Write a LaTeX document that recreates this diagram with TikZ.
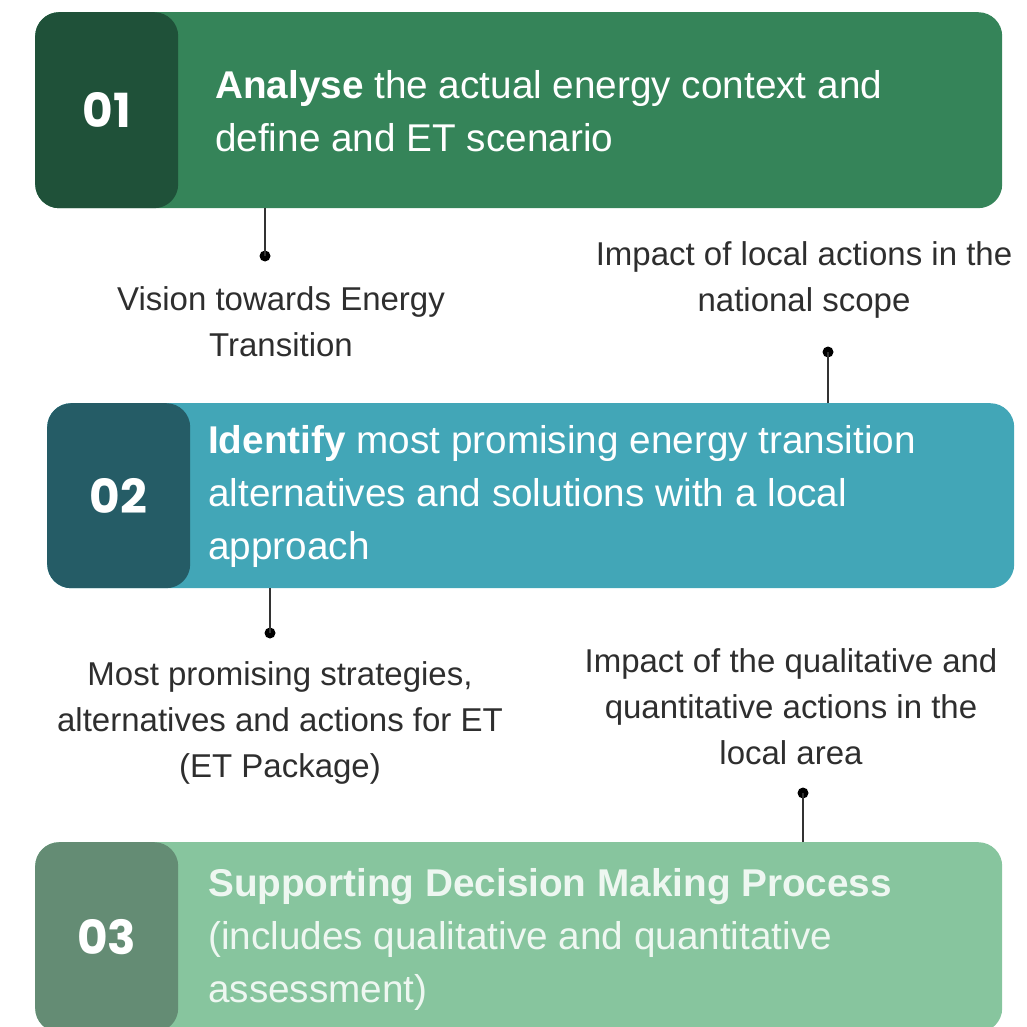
\documentclass[tikz,border=0pt]{standalone}
\usepackage{fontspec}
\setmainfont{Liberation Sans}
\newfontfamily\numfont{Poppins}
\definecolor{gA}{HTML}{358459}
\definecolor{gAd}{HTML}{1F5139}
\definecolor{gB}{HTML}{42A6B7}
\definecolor{gBd}{HTML}{255C66}
\definecolor{gC}{HTML}{87C59E}
\definecolor{gCd}{HTML}{648C74}
\definecolor{labelgray}{HTML}{2E2E2E}
\definecolor{paletext}{HTML}{EEF7F1}
\begin{document}
\begin{tikzpicture}[x=1pt,y=-1pt]
\useasboundingbox (0,0) rectangle (1026,1027);
\tikzset{
 panel/.style={rounded corners=24pt, inner sep=0pt, anchor=north west, minimum width=967pt},
 numbox/.style={rounded corners=24pt, inner sep=0pt, anchor=north west, minimum width=143pt, text=white, font=\numfont\bfseries\fontsize{47}{47}\selectfont},
 boxtext/.style={anchor=west, align=left, text=white, inner sep=0pt, font=\fontsize{38.7}{53}\selectfont},
 lbl/.style={align=center, text=labelgray, inner sep=0pt, font=\fontsize{33}{46}\selectfont},
 conn/.style={line width=2.6pt, draw=black!80},
 dotend/.style={circle, fill=black, inner sep=0pt, minimum size=11pt}
}
% Panel 1
\node[panel, fill=gA, minimum height=196pt] (box1) at (35,12) {};
\node[numbox, fill=gAd, minimum height=196pt] (num1) at (35,12) {01};
\node[boxtext] (t1) at (215,111) {\textbf{Analyse} the actual energy context and\\define and ET scenario};
% Panel 2
\node[panel, fill=gB, minimum height=185pt] (box2) at (47,403) {};
\node[numbox, fill=gBd, minimum height=185pt] (num2) at (47,403) {02};
\node[boxtext] (t2) at (208,496) {\textbf{Identify} most promising energy transition\\alternatives and solutions with a local\\approach};
% Panel 3
\node[panel, fill=gC, minimum height=190pt] (box3) at (35,842) {};
\node[numbox, fill=gCd, minimum height=190pt] (num3) at (35,842) {03};
\node[boxtext, text=paletext] (t3) at (208,939) {\textbf{Supporting Decision Making Process}\\(includes qualitative and quantitative\\assessment)};
% Connectors
\node[dotend] (d1) at (265,256) {};
\draw[conn] (box1.south -| d1) -- (d1.center);
\node[dotend] (d2) at (828,352) {};
\draw[conn] (box2.north -| d2) -- (d2.center);
\node[dotend] (d3) at (270,633) {};
\draw[conn] (box2.south -| d3) -- (d3.center);
\node[dotend] (d4) at (803,793) {};
\draw[conn] (box3.north -| d4) -- (d4.center);
% Labels
\node[lbl] (l1) at (281,322) {Vision towards Energy\\Transition};
\node[lbl] (l2) at (804,280) {Impact of local actions in the\\national scope};
\node[lbl] (l3) at (280,723) {Most promising strategies,\\alternatives and actions for ET\\(ET Package)};
\node[lbl] (l4) at (791,707) {Impact of the qualitative and\\quantitative actions in the\\local area};
\end{tikzpicture}
\end{document}
